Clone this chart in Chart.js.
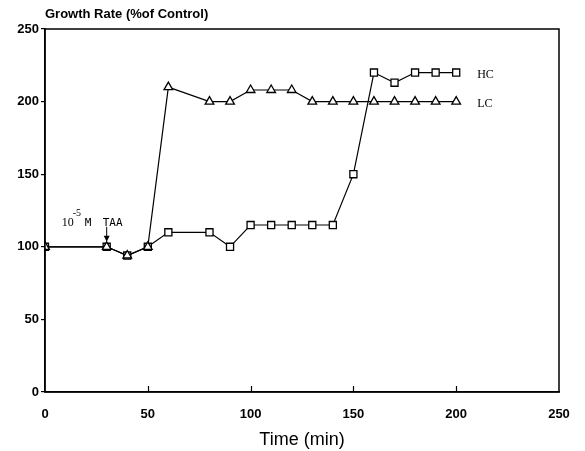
<!DOCTYPE html>
<html>
<head>
<meta charset="utf-8">
<script src="https://cdn.jsdelivr.net/npm/chart.js@4/dist/chart.umd.min.js"></script>
<style>
  html, body { margin: 0; padding: 0; background: #fff; }
  #wrap { width: 585px; height: 451px; }
</style>
</head>
<body>
<div id="wrap"><canvas id="c" width="585" height="451"></canvas></div>
<script>
// ---- data ----
const times = [0, 30, 40, 50, 60, 80, 90, 100, 110, 120, 130, 140, 150, 160, 170, 180, 190, 200];
const hcValues = [100, 100, 94, 100, 110, 110, 100, 115, 115, 115, 115, 115, 150, 220, 213, 220, 220, 220];
const lcValues = [100, 100, 94, 100, 210, 200, 200, 208, 208, 208, 200, 200, 200, 200, 200, 200, 200, 200];
const seriesNames = ['HC', 'LC'];
const xTicks = [0, 50, 100, 150, 200, 250];
const yTicks = [0, 50, 100, 150, 200, 250];
const yTitle = 'Growth Rate (%of Control)';
const xTitle = 'Time (min)';
const treatmentTime = 30;

const toPoints = (xs, ys) => xs.map((x, i) => ({ x: x, y: ys[i] }));

const framePlugin = {
  id: 'frame',
  afterDraw(chart) {
    const ctx = chart.ctx;
    const a = chart.chartArea;
    const xs = chart.scales.x, ys = chart.scales.y;
    ctx.save();
    ctx.strokeStyle = '#000';
    ctx.lineWidth = 1.5;
    ctx.strokeRect(a.left, a.top, a.right - a.left, a.bottom - a.top);
    // inward x ticks
    ctx.lineWidth = 1.2;
    xTicks.slice(1, -1).forEach(v => {
      const px = Math.round(xs.getPixelForValue(v)) + 0.5;
      ctx.beginPath();
      ctx.moveTo(px, a.bottom);
      ctx.lineTo(px, a.bottom - 6);
      ctx.stroke();
    });
    // y axis title at top
    ctx.fillStyle = '#000';
    ctx.font = 'bold 13px "Liberation Sans", Arial, sans-serif';
    ctx.textBaseline = 'middle';
    ctx.textAlign = 'left';
    ctx.fillText(yTitle, a.left, 14);
    // series labels
    ctx.font = '12px "Liberation Serif", serif';
    const lastX = times[times.length - 1];
    ctx.fillText(seriesNames[0], xs.getPixelForValue(lastX) + 21, ys.getPixelForValue(hcValues[hcValues.length - 1]) + 2);
    ctx.fillText(seriesNames[1], xs.getPixelForValue(lastX) + 21, ys.getPixelForValue(lcValues[lcValues.length - 1]) + 2);
    // treatment annotation
    const ax = xs.getPixelForValue(treatmentTime);
    const ay = ys.getPixelForValue(100);
    ctx.font = '12px "Liberation Serif", serif';
    ctx.fillText('10', ax - 45, ay - 24);
    ctx.font = '10px "Liberation Serif", serif';
    ctx.fillText('-5', ax - 34, ay - 33);
    ctx.font = '11px "DejaVu Sans Mono", monospace';
    ctx.fillText('M', ax - 22, ay - 24);
    ctx.fillText('TAA', ax - 4, ay - 24);
    ctx.beginPath();
    ctx.lineWidth = 1;
    ctx.moveTo(ax, ay - 20);
    ctx.lineTo(ax, ay - 7);
    ctx.stroke();
    ctx.beginPath();
    ctx.moveTo(ax - 3, ay - 11);
    ctx.lineTo(ax, ay - 5);
    ctx.lineTo(ax + 3, ay - 11);
    ctx.closePath();
    ctx.fill();
    ctx.restore();
  }
};

new Chart(document.getElementById('c'), {
  type: 'line',
  data: {
    datasets: [
      {
        label: seriesNames[0],
        data: toPoints(times, hcValues),
        order: 2,
        borderColor: '#000',
        borderWidth: 1.2,
        backgroundColor: '#fff',
        pointStyle: 'rect',
        pointRadius: 5,
        pointBorderWidth: 1.3,
        pointBorderColor: '#000',
        pointBackgroundColor: '#fff',
        tension: 0
      },
      {
        label: seriesNames[1],
        data: toPoints(times, lcValues),
        order: 1,
        borderColor: '#000',
        borderWidth: 1.2,
        backgroundColor: '#fff',
        pointStyle: 'triangle',
        pointRadius: 5,
        pointBorderWidth: 1.3,
        pointBorderColor: '#000',
        pointBackgroundColor: '#fff',
        tension: 0
      }
    ]
  },
  options: {
    responsive: false,
    animation: false,
    layout: { padding: { top: 29, right: 26, left: 0, bottom: 0 } },
    plugins: { legend: { display: false }, tooltip: { enabled: false } },
    scales: {
      x: {
        type: 'linear',
        min: 0, max: 250,
        afterFit: s => { s.height = 59; },
        afterBuildTicks: s => { s.ticks = xTicks.map(v => ({ value: v })); },
        grid: { display: true, drawOnChartArea: false, drawTicks: false },
        border: { display: true, color: '#000', width: 1.5 },
        ticks: {
          color: '#000',
          padding: 15,
          maxRotation: 0,
          font: { family: '"Liberation Sans", Arial, sans-serif', size: 13, weight: 'bold' }
        },
        title: {
          display: true,
          text: xTitle,
          color: '#000',
          padding: { top: 0, bottom: 0 },
          font: { family: '"Liberation Sans", Arial, sans-serif', size: 18 }
        }
      },
      y: {
        min: 0, max: 250,
        afterFit: s => { s.width = 45; },
        afterBuildTicks: s => { s.ticks = yTicks.map(v => ({ value: v })); },
        grid: { display: true, drawOnChartArea: false, drawTicks: true, tickLength: 4, color: '#000', lineWidth: 1.2 },
        border: { display: true, color: '#000', width: 1.5 },
        ticks: {
          color: '#000',
          padding: 2,
          font: { family: '"Liberation Sans", Arial, sans-serif', size: 13, weight: 'bold' }
        }
      }
    }
  },
  plugins: [framePlugin]
});
</script>
</body>
</html>
